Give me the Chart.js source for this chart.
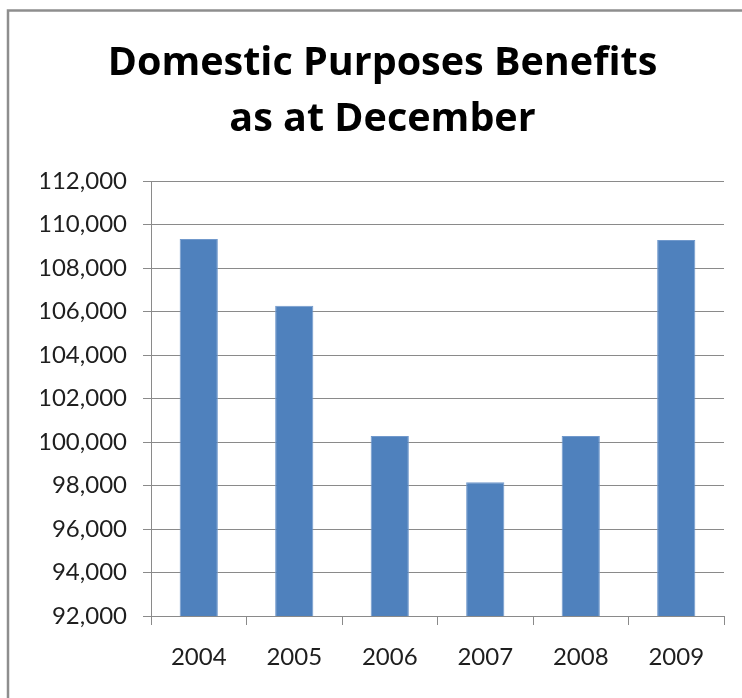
<!DOCTYPE html>
<html>
<head>
<meta charset="utf-8">
<script src="https://cdn.jsdelivr.net/npm/chart.js@4/dist/chart.umd.min.js"></script>
<style>
  html, body { margin: 0; padding: 0; background: #fff; overflow: hidden; }
  #wrap { width: 742px; height: 698px; }
</style>
</head>
<body>
<div id="wrap"><canvas id="dpb"></canvas></div>
<script>
// chart data
const years = ["2004", "2005", "2006", "2007", "2008", "2009"];
const benefits = [109330, 106270, 100280, 98150, 100280, 109290];
const titleLines = ["Domestic Purposes Benefits", "as at December"];
const yMin = 92000;
const yMax = 112000;
const yStep = 2000;

const FONT = "Lato, 'Open Sans', sans-serif";

// grey frame around the chart (runs off the right and bottom edges)
const framePlugin = {
  id: "frame",
  beforeDraw(chart) {
    const ctx = chart.ctx;
    ctx.save();
    ctx.fillStyle = "#fff";
    ctx.fillRect(0, 0, chart.width, chart.height);
    ctx.strokeStyle = "#8e8e8e";
    ctx.lineWidth = 2.5;
    ctx.strokeRect(8, 10.5, 900, 900);
    ctx.restore();
  },
};

const ctx = document.getElementById("dpb").getContext("2d");
new Chart(ctx, {
  type: "bar",
  data: {
    labels: years,
    datasets: [
      {
        label: "DPB",
        data: benefits,
        backgroundColor: "#4f81bd",
        borderColor: "#7199cc",
        borderWidth: 1,
        categoryPercentage: 0.8,
        barPercentage: 0.5,
      },
    ],
  },
  options: {
    responsive: true,
    maintainAspectRatio: false,
    animation: false,
    // left padding shifts the title centre; y axis width keeps plot left at 151
    layout: { padding: { top: 0, right: 18, bottom: 0, left: 41 } },
    plugins: {
      legend: { display: false },
      tooltip: { enabled: false },
      title: {
        display: true,
        text: titleLines,
        color: "#000",
        font: { family: "'Open Sans', sans-serif", size: 39.5, weight: "bold", lineHeight: "56px" },
        padding: { top: 36, bottom: 33 },
      },
    },
    scales: {
      x: {
        grid: {
          drawOnChartArea: false,
          drawTicks: true,
          tickLength: 9,
          color: "#8a8a8a",
        },
        border: { display: true, color: "#8a8a8a", width: 1 },
        ticks: {
          color: "#1e1e1e",
          padding: 18,
          font: { family: FONT, size: 24 },
        },
        afterFit(scale) {
          scale.height = 82;
        },
      },
      y: {
        min: yMin,
        max: yMax,
        grid: {
          color: "#8a8a8a",
          tickLength: 8,
        },
        border: { display: true, color: "#8a8a8a", width: 1 },
        ticks: {
          stepSize: yStep,
          color: "#1e1e1e",
          padding: 16,
          font: { family: FONT, size: 24 },
          callback: (v) => v.toLocaleString("en-US"),
        },
        afterFit(scale) {
          scale.width = 110;
        },
      },
    },
  },
  plugins: [framePlugin],
});
</script>
</body>
</html>
